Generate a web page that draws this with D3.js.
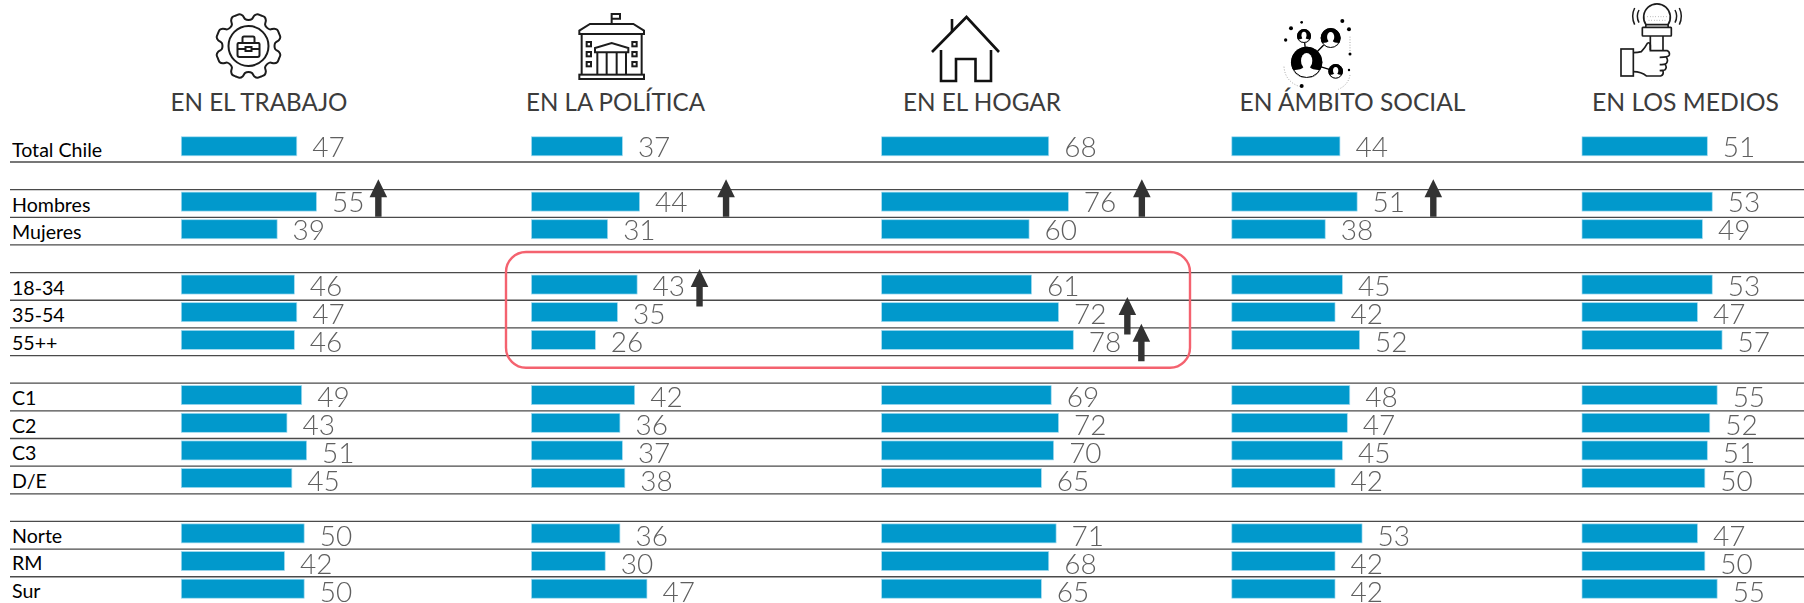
<!DOCTYPE html>
<html><head><meta charset="utf-8">
<script src="https://cdnjs.cloudflare.com/ajax/libs/d3/7.8.5/d3.min.js"></script>
<style>html,body{margin:0;padding:0;background:#fff;overflow:hidden}svg{display:block}</style>
</head><body><div id="c"></div>
<script>
const headers = ["EN EL TRABAJO","EN LA POLÍTICA","EN EL HOGAR","EN ÁMBITO SOCIAL","EN LOS MEDIOS"];
const segments = ["Total Chile","Hombres","Mujeres","18-34","35-54","55++","C1","C2","C3","D/E","Norte","RM","Sur"];
const rowSlots = [0,2,3,5,6,7,9,10,11,12,14,15,16];
const trabajo = [47,55,39,46,47,46,49,43,51,45,50,42,50];
const politica = [37,44,31,43,35,26,42,36,37,38,36,30,47];
const hogar = [68,76,60,61,72,78,69,72,70,65,71,68,65];
const social = [44,51,38,45,42,52,48,47,45,42,53,42,42];
const medios = [51,53,49,53,47,57,55,52,51,50,47,50,55];
const series = [trabajo,politica,hogar,social,medios];
// up-arrows: column index, row slot, position on the value axis
const arrowCols = [0,1,2,3,1,2,2];
const arrowSlots = [2,2,2,2,5.24,6.26,7.22];
const arrowVals = [80.2,79.2,105.9,82,68.4,100,105.7];

const W=1804,H=603;
const svg=d3.select("#c").append("svg").attr("width",W).attr("height",H);
const colX=d3.scalePoint().domain(d3.range(5)).range([181.3,1582]);
const x=d3.scaleLinear().domain([0,100]).range([0,245.7]);
const lineY=d3.scaleLinear().domain([0,16]).range([162,604.4]);
const valY=d3.scaleLinear().domain([0,16]).range([156.7,602]);
const labY=d3.scaleLinear().domain([0,16]).range([156.7,598]);
const sans="Lato, Carlito, 'Open Sans', sans-serif";

// rules
svg.append("g").selectAll("line").data(d3.range(0,16)).join("line")
 .attr("x1",10).attr("x2",W).attr("y1",d=>lineY(d)).attr("y2",d=>lineY(d))
 .attr("stroke","#4a4a4a").attr("stroke-width",1.3);

// bars
const cols=svg.append("g").style("opacity",.999).selectAll("g").data(series).join("g")
 .attr("transform",(d,i)=>`translate(${colX(i)},0)`);
cols.selectAll("rect").data(d=>d).join("rect")
 .attr("x",0).attr("y",(d,i)=>lineY(rowSlots[i])-25.2)
 .attr("width",d=>x(d)).attr("height",19)
 .attr("fill","#0099cc").attr("stroke","#a5dcf0").attr("stroke-width",.7);
cols.selectAll("text").data(d=>d).join("text")
 .attr("x",d=>x(d)+15.5).attr("y",(d,i)=>valY(rowSlots[i]))
 .attr("font-family",sans).attr("font-weight",300).attr("font-size",28)
 .attr("fill","#5f5f5f").text(d=>d);

// row labels
svg.append("g").style("opacity",.999).selectAll("text").data(segments).join("text")
 .attr("x",12).attr("y",(d,i)=>labY(rowSlots[i]))
 .attr("font-family",sans).attr("font-size",19.6).attr("fill","#000").text(d=>d);

// headers
const hdrCenter=[259,615.5,982,1352.5,1685.5], hdrW=[177,179,158,226,187];
svg.append("g").style("opacity",.999).selectAll("text").data(headers).join("text")
 .attr("x",(d,i)=>hdrCenter[i]).attr("y",111).attr("text-anchor","middle")
 .attr("font-family",sans).attr("font-size",25.5).attr("fill","#3c3c3c")
 .attr("textLength",(d,i)=>hdrW[i]).attr("lengthAdjust","spacingAndGlyphs").text(d=>d);

// arrows
const arrowG=svg.append("g");
arrowCols.forEach((c,i)=>{
  const cx=colX(c)+x(arrowVals[i]), b=lineY(arrowSlots[i])-.5;
  arrowG.append("path").attr("fill","#333")
   .attr("d",`M${cx},${b-37.5}L${cx+8.8},${b-19.5}L${cx+3.2},${b-19.5}L${cx+3.2},${b}L${cx-3.2},${b}L${cx-3.2},${b-19.5}L${cx-8.8},${b-19.5}Z`);
});

// highlight
svg.append("rect").attr("x",506).attr("y",252).attr("width",684).attr("height",115.7)
 .attr("rx",20).attr("fill","none").attr("stroke","#f4626f").attr("stroke-width",2.4);

// ---- icons ----
const ink="#1c1c1c";
// gear
(function(){
 const g=svg.append("g").attr("transform","translate(248.5,46)").attr("fill","none").attr("stroke",ink).attr("stroke-width",2);
 const pts=[];
 for(let k=0;k<8;k++){
  const a=k*Math.PI/4-Math.PI/2, s=Math.PI/180;
  [[26,0],[27,7],[31,11],[33,15.5],[33,22.5],[33,29.5],[31,34],[27,38]].forEach(([r,o])=>{
    pts.push([r*Math.cos(a+o*s),r*Math.sin(a+o*s)]);});
 }
 g.append("path").attr("d",d3.line().curve(d3.curveCatmullRomClosed)(pts));
 g.append("circle").attr("r",20);
 g.append("path").attr("d","M-10,-3H10A1.5,1.5 0 0 1 11,-1.5V9A2,2 0 0 1 9,11H-9A2,2 0 0 1 -11,9V-1.5A1.5,1.5 0 0 1 -10,-3Z");
 g.append("path").attr("d","M-6,-3V-8A1.5,1.5 0 0 1 -4.5,-9.5H4.5A1.5,1.5 0 0 1 6,-8V-3M-11,3H-3M3,3H11");
 g.append("rect").attr("x",-3).attr("y",1).attr("width",6).attr("height",4);
})();
// building (drawn in 3x crop units)
(function(){
 const g=svg.append("g").attr("transform","translate(570,8) scale(.3333)").attr("fill","none").attr("stroke",ink).attr("stroke-width",6);
 g.append("path").attr("d","M125,48V18H150V32H125");
 g.append("path").attr("d","M28,78V68L60,48H190L222,68V78Z");
 g.append("path").attr("d","M35,78V200M215,78V200");
 g.append("rect").attr("x",28).attr("y",200).attr("width",194).attr("height",13);
 [50,187].forEach(wx=>[102,132,162].forEach(wy=>g.append("rect").attr("x",wx).attr("y",wy).attr("width",13).attr("height",13)));
 g.append("path").attr("d","M75,133V120L125,105L175,120V133Z");
 g.append("path").attr("d","M82,133V200M110,133V200M140,133V200M168,133V200");
})();
// house
(function(){
 const g=svg.append("g").attr("fill","none").attr("stroke","#111").attr("stroke-width",2.6);
 g.append("path").attr("d","M932,52L966.5,17L999,52");
 g.append("path").attr("d","M952,19V32");
 g.append("path").attr("d","M941,50V81H956V59H975.5V81H991V50");
})();
// people
(function(){
 const g=svg.append("g").attr("transform","translate(1270,10) scale(.3333)");
 function person(cx,cy,r){
  g.append("circle").attr("cx",cx).attr("cy",cy).attr("r",r).attr("fill","#000");
  const a=.5*r, w=Math.sqrt(r*r-a*a);
  g.append("path").attr("fill","#fff").attr("d",`M${cx-w},${cy+a}Q${cx-.3*r},${cy+a*.95} ${cx-.2*r},${cy+.3*r}H${cx+.2*r}Q${cx+.3*r},${cy+a*.95} ${cx+w},${cy+a}A${r},${r} 0 0 1 ${cx-w},${cy+a}Z`);
  g.append("ellipse").attr("cx",cx).attr("cy",cy-.1*r).attr("rx",.36*r).attr("ry",.5*r).attr("fill","#fff");
  g.append("circle").attr("cx",cx).attr("cy",cy).attr("r",r-1.5).attr("fill","none").attr("stroke","#000").attr("stroke-width",3);
 }
 g.append("path").attr("stroke","#000").attr("stroke-width",4).attr("fill","none")
  .attr("d","M110,157L102,78M110,157L182,84M110,157L197,184");
 person(110,157,47);person(102,78,21);person(182,84,30);person(197,184,22);
 const dx=[63,95,217,240,237,95,237,47], dy=[55,37,33,132,180,228,58,90], dr=[6,4,6,4.5,3.5,6,6,5];
 g.selectAll("circle.d").data(dx).join("circle").attr("class","d").attr("cx",d=>d).attr("cy",(d,i)=>dy[i]).attr("r",(d,i)=>dr[i]).attr("fill","#000");
 g.append("path").attr("fill","none").attr("stroke","#777").attr("stroke-width",2).attr("stroke-dasharray","3 5")
  .attr("d","M240,80V125M42,170Q45,215 90,230M240,195Q235,225 205,238");
})();
// microphone
(function(){
 const g=svg.append("g").attr("transform","translate(1608,0) scale(.3333)").attr("fill","none").attr("stroke",ink).attr("stroke-width",5);
 g.append("path").attr("d","M114,74A40,40 0 1 1 180,74Z");
 g.append("rect").attr("x",103).attr("y",82).attr("width",87).attr("height",26).attr("rx",2);
 g.append("path").attr("d","M114,74L113,82M180,74L181,82");
 g.append("path").attr("d","M127,108V150M165,108V150");
 g.append("rect").attr("x",39).attr("y",147).attr("width",37).attr("height",81);
 g.append("path").attr("d","M76,158Q90,158 100,155Q110,145 118,130Q125,125 127,135V152H178Q186,155 184,165Q182,172 155,172M175,172Q182,182 175,190Q170,194 155,194M172,194Q178,204 170,210L155,212M165,212Q168,225 158,228H115Q100,215 76,215");
 g.append("path").attr("stroke-dasharray","2 6").attr("stroke-width",2).attr("stroke","#666").attr("d","M118,50H176M122,61H172");
 g.append("path").attr("stroke-width",4.5).attr("d","M93,30Q83,48 93,68M80,24Q68,48 80,74M201,30Q211,48 201,68M214,24Q226,48 214,74");
})();
</script></body></html>
